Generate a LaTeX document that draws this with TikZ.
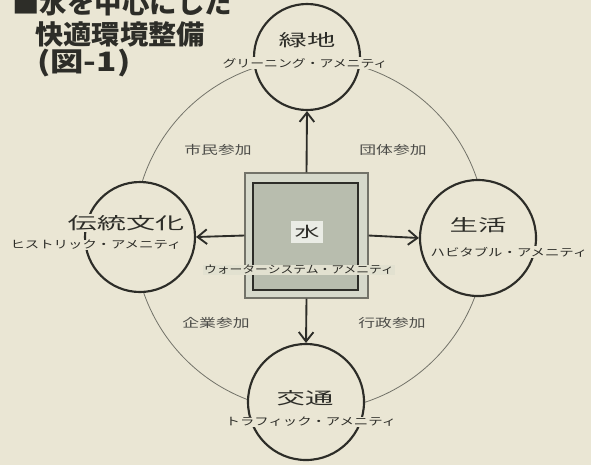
\documentclass[tikz,border=0pt]{standalone}
\usepackage{fontspec}
\setmainfont{Noto Sans CJK JP}
\usetikzlibrary{positioning, arrows.meta}
\definecolor{paper}{RGB}{234,230,212}
\definecolor{ink}{RGB}{45,45,40}
\definecolor{ringgray}{RGB}{115,115,105}
\definecolor{watergray}{RGB}{184,189,174}
\definecolor{framegray}{RGB}{214,217,203}
\newcommand{\wide}[2]{\scalebox{#1}[1]{#2}}

\begin{document}
\begin{tikzpicture}[x=0.75pt, y=-0.75pt]
        \tikzstyle{amenity} = [circle, draw=ink, line width=1.6pt, fill=paper, inner sep=0pt]
        \tikzstyle{amenityname} = [fill=paper, text=ink, inner sep=1pt, font=\fontsize{12.5}{14}\selectfont]
        \tikzstyle{amenitysub} = [fill=paper, text=ink, inner sep=0.5pt, font=\fontsize{8}{9}\selectfont]
        \tikzstyle{sharetext} = [text=ink!85, font=\fontsize{9}{10}\selectfont]
        \tikzstyle{headline} = [anchor=base west, text=ink, inner sep=0pt, font=\fontsize{20}{22}\selectfont\bfseries]
        \tikzstyle{arrowline} = [draw=ink, line width=1.4pt, -{Straight Barb[length=7pt, width=11pt]}]

        \fill[paper] (0,0) rectangle (591,465);
        \useasboundingbox (0,0) rectangle (591,465);

        % title
        \node[headline] (title1) at (12,13) {\wide{1.03}{■水を中心にした}};
        \node[headline] (title2) at (35,44) {\wide{1.06}{快適環境整備}};
        \node[headline] (title3) at (37,71) {\wide{1.25}{(図-1)}};

        % outer ring
        \coordinate (hub) at (310,235);
        \draw[ringgray, line width=0.6pt] (hub) circle[radius=132pt];

        % amenity circles
        \node[amenity, minimum size=79.5pt] (green) at (307,57) {};
        \node[amenity, minimum size=82.5pt] (culture) at (140,237) {};
        \node[amenity, minimum size=87pt] (life) at (478,238) {};
        \node[amenity, minimum size=87pt] (traffic) at (306,402) {};

        \node[amenityname] (greenname) at (307,40) {\wide{1.7}{緑地}};
        \node[amenitysub] (greensub) at (305,63) {\wide{1.3}{グリーニング・アメニティ}};
        \node[amenityname] (culturename) at (126,223) {\wide{1.75}{伝統文化}};
        \node[amenitysub] (culturesub) at (96,245) {\wide{1.35}{ヒストリック・アメニティ}};
        \node[amenityname] (lifename) at (478,225) {\wide{1.7}{生活}};
        \node[amenitysub] (lifesub) at (509,252) {\wide{1.35}{ハビタブル・アメニティ}};
        \node[amenityname] (trafficname) at (305,398) {\wide{1.7}{交通}};
        \node[amenitysub] (trafficsub) at (311,422) {\wide{1.35}{トラフィック・アメニティ}};

        % water box
        \node[draw=ringgray, line width=0.8pt, fill=framegray, minimum width=92.25pt, minimum height=93.75pt] (water) at (306.5,235.5) {};
        \node[draw=ink, line width=2pt, fill=watergray, minimum width=78.75pt, minimum height=80.25pt] (pool) at (305.5,236.5) {};
        \node[fill=framegray!50!white, text=ink, inner sep=3pt, font=\fontsize{11}{12}\selectfont] (mizu) at (307,232) {\wide{1.7}{水}};
        \node[amenitysub, fill=framegray!40!paper] (watersub) at (299,270) {\wide{1.2}{ウォーターシステム・アメニティ}};

        % arrows
        \draw[arrowline] (water.north) -- (green.south);
        \draw[arrowline] (water.west) -- (culture.east);
        \draw[arrowline] (water.east) -- (life.west);
        \draw[arrowline] (water.south) -- (traffic.north);

        % participation
        \node[sharetext] (citizen) at (218,150) {\wide{1.4}{市民参加}};
        \node[sharetext] (group) at (393,150) {\wide{1.4}{団体参加}};
        \node[sharetext] (company) at (216,323) {\wide{1.4}{企業参加}};
        \node[sharetext] (admin) at (392,323) {\wide{1.4}{行政参加}};
    \end{tikzpicture}
\end{document}
